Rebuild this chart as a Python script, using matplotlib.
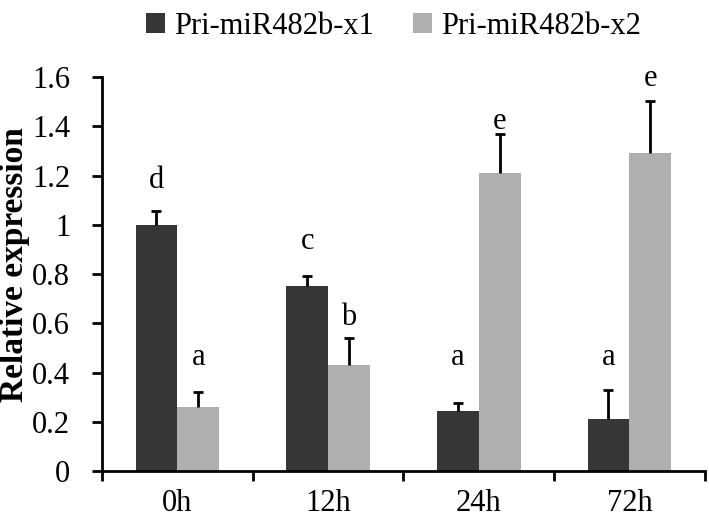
import numpy as np
import matplotlib
matplotlib.use('Agg')
import matplotlib.pyplot as plt

plt.rcParams['font.family'] = ['Liberation Serif', 'DejaVu Serif']

times = ['0h', '12h', '24h', '72h']
series_names = ['Pri-miR482b-x1', 'Pri-miR482b-x2']
x1_vals = [1.0, 0.75, 0.245, 0.21]
x1_err = [0.055, 0.04, 0.03, 0.12]
x2_vals = [0.26, 0.43, 1.21, 1.29]
x2_err = [0.06, 0.11, 0.157, 0.212]
x1_letters = ['d', 'c', 'a', 'a']
x2_letters = ['a', 'b', 'e', 'e']
x1_letter_y = [1.15, 0.90, 0.43, 0.43]
x2_letter_y = [0.43, 0.595, 1.39, 1.565]

c_dark = '#363636'
c_light = '#afafaf'

fig = plt.figure(figsize=(7.09, 5.19), dpi=100)
ax = fig.add_axes([0.144, 0.0925, 0.850, 0.759])

x = np.arange(len(times))
w = 0.278


def bars_with_err(pos, vals, err, color, label):
    vals = np.array(vals)
    err = np.array(err)
    ax.bar(pos, vals, w, color=color, label=label, zorder=2)
    # upper error only, no cap hidden at the bar top
    ax.errorbar(pos, vals, yerr=[np.zeros(len(err)), err], fmt='none',
                ecolor='black', elinewidth=2, capsize=0, zorder=3)
    ax.plot(pos, vals + err, ls='none', marker='_', ms=7, mew=2,
            color='black', zorder=3)


bars_with_err(x - w/2, x1_vals, x1_err, c_dark, series_names[0])
bars_with_err(x + w/2, x2_vals, x2_err, c_light, series_names[1])

for i in range(len(times)):
    ax.text(x[i] - w/2, x1_letter_y[i], x1_letters[i], ha='center', va='baseline', fontsize=22)
    ax.text(x[i] + w/2, x2_letter_y[i], x2_letters[i], ha='center', va='baseline', fontsize=22)

ax.set_xlim(-0.5, len(times) - 0.5)
ax.set_ylim(0, 1.6)
ax.set_yticks(np.arange(0, 1.61, 0.2))
ax.set_yticklabels(['0', '0.2', '0.4', '0.6', '0.8', '1', '1.2', '1.4', '1.6'])
ax.set_xticks(x)
ax.set_xticklabels(times)
ax.set_xticks(np.arange(-0.5, len(times), 1), minor=True)
ax.tick_params(axis='x', which='major', length=0, labelsize=22, pad=13)
ax.tick_params(axis='x', which='minor', length=7, width=2, direction='out')
ax.tick_params(axis='y', length=7, width=2, labelsize=22, pad=16)
for s in ['top', 'right']:
    ax.spines[s].set_visible(False)
for s in ['left', 'bottom']:
    ax.spines[s].set_linewidth(2)

fig.text(0.021, 0.49, 'Relative expression', fontsize=24, fontweight='bold',
         rotation=90, ha='center', va='center')

fig.legend(loc='upper center', ncol=2, frameon=False, fontsize=22,
           bbox_to_anchor=(0.555, 1.03), handlelength=0.6, handleheight=0.6,
           handletextpad=0.3, columnspacing=1.3)

fig.savefig('out.png', dpi=100)
